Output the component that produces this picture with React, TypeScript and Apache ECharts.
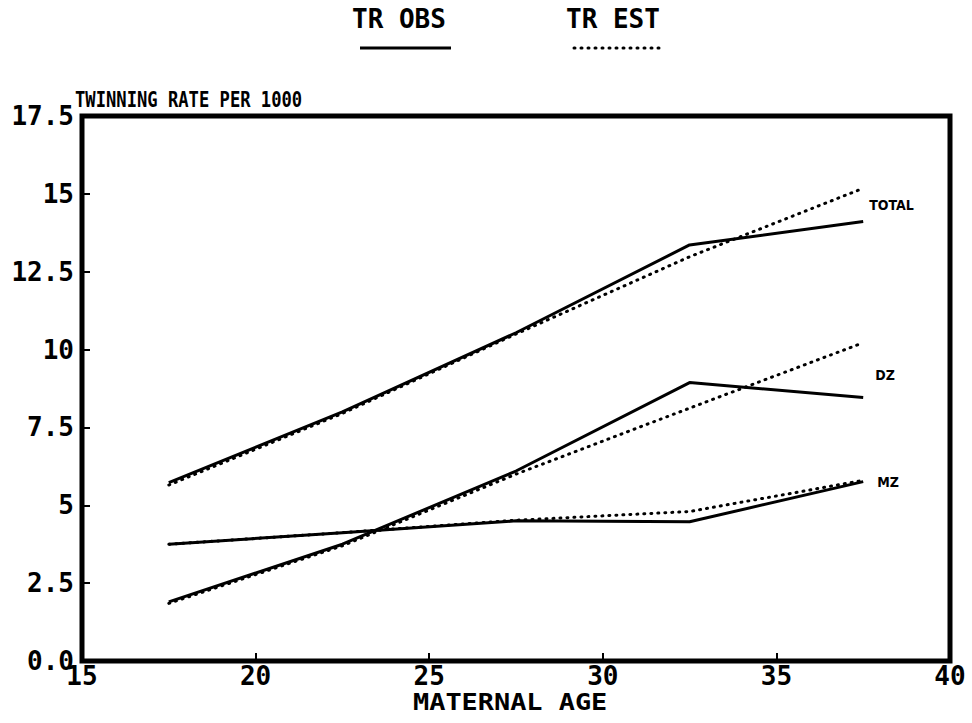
import React, { useEffect, useRef } from "react";
import * as echarts from "echarts";

const ages = [17.5, 22.5, 27.5, 32.5, 37.5];
const totalObs = [5.73, 8.0, 10.54, 13.36, 14.11];
const totalEst = [5.65, 7.95, 10.5, 12.98, 15.18];
const dzObs = [1.9, 3.75, 6.1, 8.94, 8.46];
const dzEst = [1.85, 3.7, 6.0, 8.12, 10.22];
const mzObs = [3.75, 4.12, 4.5, 4.47, 5.76];
const mzEst = [3.75, 4.12, 4.52, 4.8, 5.8];
const groupNames = ["TOTAL", "DZ", "MZ"];
const legendNames = ["TR OBS", "TR EST"];
const yTickLabels: Record<string, string> = {
  "0": "0.0", "2.5": "2.5", "5": "5", "7.5": "7.5", "10": "10",
  "12.5": "12.5", "15": "15", "17.5": "17.5",
};

const pairs = (ys: number[]) => ages.map((a, i) => [a, ys[i]]);

export default function App() {
  const ref = useRef<HTMLDivElement>(null);
  useEffect(() => {
    document.body.style.margin = "0";
    const chart = echarts.init(ref.current!, null, { renderer: "svg" });
    const mono = "DejaVu Sans Mono";
    const solid = { color: "#000", width: 3, type: "solid" as const };
    const dotted = { color: "#000", width: 3, type: [1, 6], cap: "round" as const };
    const endLab = (name: string, offset: number[]) => ({
      show: true,
      formatter: name,
      offset,
      color: "#000",
      fontFamily: "DejaVu Sans Condensed, DejaVu Sans",
      fontWeight: "bold" as const,
      fontSize: 14,
    });
    chart.setOption({
      animation: false,
      backgroundColor: "#fff",
      grid: {
        left: 82, right: 22, top: 116, bottom: 62,
        show: true, borderColor: "#000", borderWidth: 5,
      },
      xAxis: {
        type: "value", min: 15, max: 40, interval: 5,
        axisLine: { show: false },
        splitLine: { show: false },
        axisTick: { show: true, inside: true, length: 8, lineStyle: { color: "#000", width: 2 } },
        axisLabel: { color: "#000", fontFamily: mono, fontWeight: "bold", fontSize: 26, margin: 2 },
      },
      yAxis: {
        type: "value", min: 0, max: 17.5, interval: 2.5,
        axisLine: { show: false },
        splitLine: { show: false },
        axisTick: { show: true, inside: true, length: 8, lineStyle: { color: "#000", width: 2 } },
        axisLabel: {
          color: "#000", fontFamily: mono, fontWeight: "bold", fontSize: 26, margin: 8,
          formatter: (v: number) => yTickLabels[String(v)] ?? String(v),
        },
      },
      series: [
        { type: "line", name: "TOTAL OBS", data: pairs(totalObs), symbol: "none", lineStyle: solid,
          endLabel: endLab(groupNames[0], [-2, -17]) },
        { type: "line", name: "TOTAL EST", data: pairs(totalEst), symbol: "none", lineStyle: dotted },
        { type: "line", name: "DZ OBS", data: pairs(dzObs), symbol: "none", lineStyle: solid,
          endLabel: endLab(groupNames[1], [4, -23]) },
        { type: "line", name: "DZ EST", data: pairs(dzEst), symbol: "none", lineStyle: dotted },
        { type: "line", name: "MZ OBS", data: pairs(mzObs), symbol: "none", lineStyle: solid,
          endLabel: endLab(groupNames[2], [6, 0]) },
        { type: "line", name: "MZ EST", data: pairs(mzEst), symbol: "none", lineStyle: dotted },
      ],
      graphic: [
        { type: "text", x: 352, y: 6, style: { text: legendNames[0], fill: "#000", font: `bold 26px '${mono}'` } },
        { type: "line", shape: { x1: 360, y1: 48, x2: 451, y2: 48 }, style: { stroke: "#000", lineWidth: 3 } },
        { type: "text", x: 566, y: 6, style: { text: legendNames[1], fill: "#000", font: `bold 26px '${mono}'` } },
        { type: "line", shape: { x1: 574, y1: 48, x2: 662, y2: 48 },
          style: { stroke: "#000", lineWidth: 3, lineDash: [1, 6], lineCap: "round" } },
        { type: "text", x: 75, y: 89, scaleX: 0.78, style: { text: "TWINNING RATE PER 1000", fill: "#000", font: `bold 22px '${mono}'` } },
        { type: "text", x: 413, y: 691, scaleX: 1.17, style: { text: "MATERNAL AGE", fill: "#000", font: `bold 23px '${mono}'` } },
      ],
    });
    return () => chart.dispose();
  }, []);
  return <div ref={ref} style={{ width: 972, height: 723, position: "absolute", left: 0, top: 0 }} />;
}
